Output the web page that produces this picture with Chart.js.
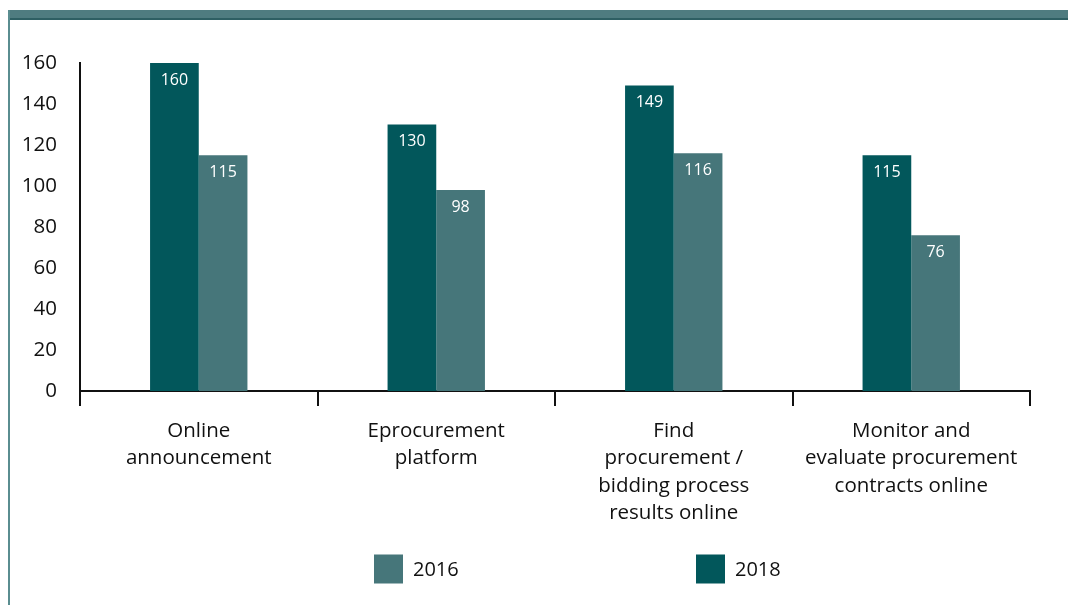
<!DOCTYPE html>
<html>
<head>
<meta charset="utf-8">
<script src="https://cdn.jsdelivr.net/npm/chart.js@4/dist/chart.umd.min.js"></script>
<style>
  html, body { margin: 0; padding: 0; background: #fff; }
  #wrap { position: relative; width: 1068px; height: 605px; overflow: hidden; }
  #topbar { position: absolute; left: 8px; top: 10px; width: 1060px; height: 8px; background: #4f7c80; border-bottom: 2px solid #2e5f63; }
  #leftline { position: absolute; left: 8px; top: 10px; width: 2px; height: 595px; background: #5a8d90; }
  canvas { position: absolute; left: 0; top: 0; }
</style>
</head>
<body>
<div id="wrap">
  <canvas id="chart" width="1068" height="605"></canvas>
  <div id="topbar"></div>
  <div id="leftline"></div>
</div>
<script>
const categories = [
  ['Online', 'announcement'],
  ['Eprocurement', 'platform'],
  ['Find', 'procurement /', 'bidding process', 'results online'],
  ['Monitor and', 'evaluate procurement', 'contracts online']
];
const values2018 = [160, 130, 149, 115];
const values2016 = [115, 98, 116, 76];
const yTicks = [0, 20, 40, 60, 80, 100, 120, 140, 160];

const FONT = "'Open Sans', 'Noto Sans', sans-serif";
const col2018 = '#02575b';
const col2016 = '#46767a';

// white value labels at the top of each bar
const barValues = {
  id: 'barValues',
  afterDatasetsDraw(chart) {
    const ctx = chart.ctx;
    ctx.save();
    ctx.fillStyle = '#fff';
    ctx.font = '16px ' + FONT;
    ctx.textAlign = 'center';
    ctx.textBaseline = 'middle';
    chart.data.datasets.forEach((ds, i) => {
      chart.getDatasetMeta(i).data.forEach((bar, j) => {
        ctx.fillText(ds.data[j], bar.x, bar.y + 17);
      });
    });
    ctx.restore();
  }
};

// legend below the axis, 2016 first, spread apart
const spreadLegend = {
  id: 'spreadLegend',
  afterDraw(chart) {
    const ctx = chart.ctx;
    const a = chart.chartArea;
    const mid = (a.left + a.right) / 2;
    const items = [
      { label: '2016', color: col2016, x: mid - 181 },
      { label: '2018', color: col2018, x: mid + 141 }
    ];
    const y = 569;
    ctx.save();
    ctx.font = '20px ' + FONT;
    ctx.textBaseline = 'middle';
    ctx.textAlign = 'left';
    items.forEach(it => {
      ctx.fillStyle = it.color;
      ctx.fillRect(it.x, y - 14.5, 29, 29);
      ctx.fillStyle = '#111';
      ctx.fillText(it.label, it.x + 39, y + 1);
    });
    ctx.restore();
  }
};

new Chart(document.getElementById('chart').getContext('2d'), {
  type: 'bar',
  data: {
    labels: categories,
    datasets: [
      { label: '2018', data: values2018, backgroundColor: col2018, categoryPercentage: 0.41, barPercentage: 1 },
      { label: '2016', data: values2016, backgroundColor: col2016, categoryPercentage: 0.41, barPercentage: 1 }
    ]
  },
  options: {
    responsive: false,
    animation: false,
    layout: { padding: { left: 10, right: 38, top: 63, bottom: 84 } },
    plugins: {
      legend: { display: false },
      tooltip: { enabled: false }
    },
    scales: {
      x: {
        afterFit(scale) { scale.height = 130; },
        grid: { display: true, offset: true, drawOnChartArea: false, drawTicks: true, tickLength: 15, color: '#111', lineWidth: 2 },
        border: { display: true, color: '#111', width: 2 },
        ticks: { color: '#111', font: { family: FONT, size: 20.5, lineHeight: 1.34 }, padding: 11, maxRotation: 0, autoSkip: false }
      },
      y: {
        min: 0,
        max: 160,
        afterFit(scale) { scale.width = 70; },
        afterBuildTicks(scale) { scale.ticks = yTicks.map(v => ({ value: v })); },
        grid: { display: false },
        border: { display: true, color: '#111', width: 2 },
        ticks: { color: '#111', font: { family: FONT, size: 20.5 }, padding: 15 }
      }
    }
  },
  plugins: [barValues, spreadLegend]
});
</script>
</body>
</html>
